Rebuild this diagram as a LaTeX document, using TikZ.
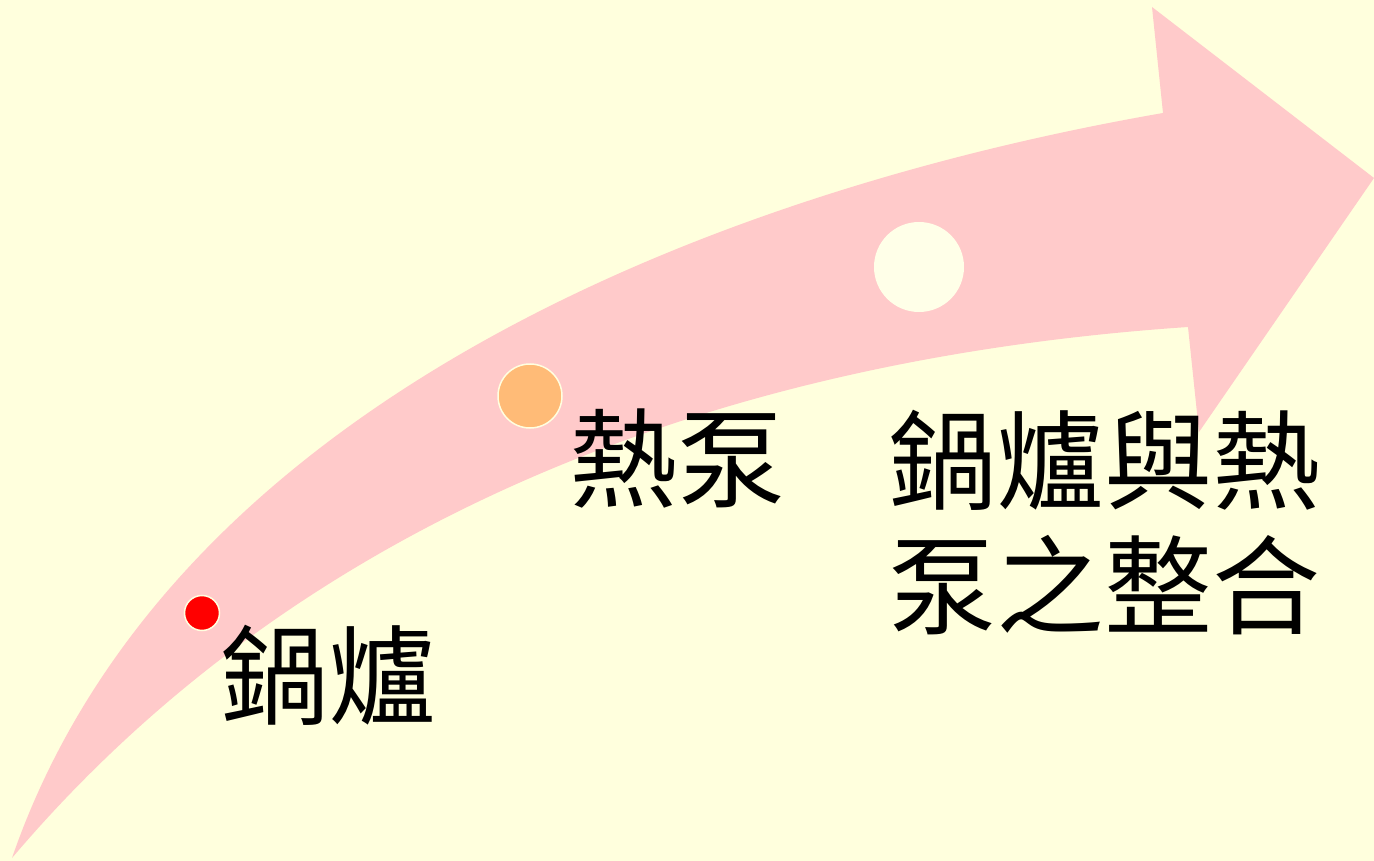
\documentclass[tikz,border=0pt]{standalone}
\usepackage{fontspec}
\newfontfamily\cjk{Noto Sans CJK TC}
\definecolor{bgcol}{HTML}{FFFFDD}
\definecolor{arrowpink}{HTML}{FFCACA}
\definecolor{dotred}{HTML}{FF0000}
\definecolor{dotorange}{HTML}{FFBB77}
\definecolor{dotcream}{HTML}{FFFFE8}
\definecolor{dotrim}{HTML}{FFFFE0}
\tikzset{
  dot/.style={circle, inner sep=0pt, draw=dotrim, line width=1.5pt},
  label/.style={font=\cjk\fontsize{108}{125}\selectfont, inner sep=0pt, text=black}
}
\begin{document}
\begin{tikzpicture}[x=1pt, y=-1pt]
\useasboundingbox (0,0) rectangle (1374,861);
\fill[bgcol] (0,0) rectangle (1374,861);
% curved arrow
\fill[arrowpink] (12,858) .. controls (170,400) and (720,190) .. (1163,113)
  -- (1152,7) -- (1374,178) -- (1199,432) -- (1188,327)
  .. controls (700,360) and (290,530) .. (12,858) -- cycle;
% dots
\node[dot, fill=dotred, minimum size=35pt] (d1) at (202,613) {};
\node[dot, fill=dotorange, minimum size=64pt] (d2) at (530,396) {};
\node[dot, fill=dotcream, draw=none, minimum size=90pt] (d3) at (919,267) {};
% labels
\node[label] (t1) at (328,675) {鍋爐};
\node[label] (t2) at (677,459) {熱泵};
\node[label, align=left] (t3) at (1104,523) {鍋爐與熱\\泵之整合};
\end{tikzpicture}
\end{document}
